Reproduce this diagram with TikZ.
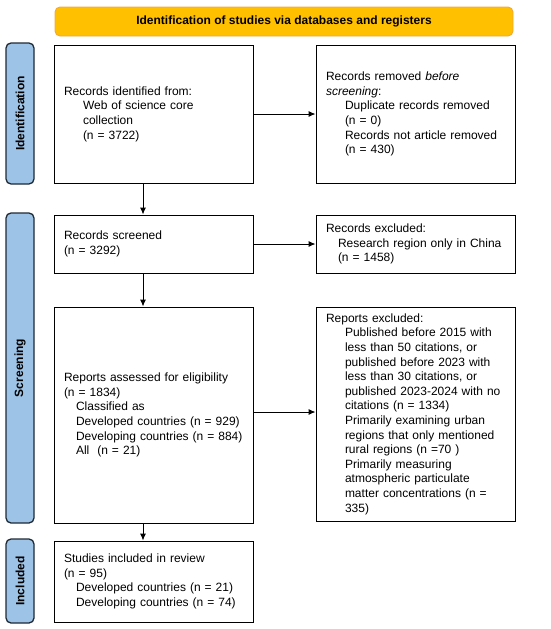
\documentclass[tikz,border=0pt]{standalone}
\usepackage{fontspec}
\setmainfont{Liberation Sans}
\usepackage{tikz}
\usetikzlibrary{positioning}
\usetikzlibrary{arrows.meta}
\definecolor{bannerfill}{HTML}{FFC000}
\definecolor{bannerline}{HTML}{F2A93B}
\definecolor{barfill}{HTML}{9DC3E6}
\definecolor{barline}{HTML}{1E2A36}
\newcommand{\bigind}{\hspace*{19pt}}
\newcommand{\smallind}{\hspace*{12pt}}

\begin{document}
\begin{tikzpicture}[x=1pt, y=-1pt,
    every node/.style={font=\fontsize{12}{14.6}\selectfont},
    banner/.style={draw=bannerline, line width=0.9pt, fill=bannerfill, rounded corners=5pt,
      minimum width=458pt, minimum height=29pt, font=\fontsize{12}{14.6}\selectfont\bfseries},
    sidebar/.style={draw=barline, line width=1.3pt, fill=barfill, rounded corners=5pt,
      rotate=90, minimum height=28pt, inner sep=0pt, font=\fontsize{12}{14.6}\selectfont\bfseries},
    flowbox/.style={draw, line width=0.9pt, align=left, text width=179pt, inner xsep=10pt, inner ysep=4pt},
    arr/.style={line width=1pt, -{Latex[length=7pt, width=6pt]}}]
  \useasboundingbox (0,0) rectangle (550,629);

  \node[banner] (title) at (284,21.5) {Identification of studies via databases and registers};

  \node[sidebar, minimum width=141pt] (idbar) at (20,113.5) {Identification};
  \node[sidebar, minimum width=310pt] (scrbar) at (20,368) {Screening};
  \node[sidebar, minimum width=84pt] (incbar) at (20,581) {Included};

  \node[flowbox, minimum height=138pt] (recid) at (153.5,114) {Records identified from:\\
    \bigind Web of science core\\
    \bigind collection\\
    \bigind (n = 3722)};
  \node[flowbox, minimum height=138pt] (recrem) at (415.5,114) {Records removed \textit{before}\\
    \textit{screening}:\\
    \bigind Duplicate records removed\\
    \bigind (n = 0)\\
    \bigind Records not article removed\\
    \bigind (n = 430)};

  \node[flowbox, minimum height=58pt] (recscr) at (153.5,244) {Records screened\\
    (n = 3292)};
  \node[flowbox, minimum height=58pt] (recexc) at (415.5,244) {Records excluded:\\
    \smallind Research region only in China\\
    \smallind (n = 1458)};

  \node[flowbox, minimum height=216pt] (repass) at (153.5,415) {Reports assessed for eligibility\\
    (n = 1834)\\
    \smallind Classified as\\
    \smallind Developed countries (n = 929)\\
    \smallind Developing countries (n = 884)\\
    \smallind All~ (n = 21)};
  \node[flowbox, minimum height=214pt] (repexc) at (415.5,414) {Reports excluded:\\
    \bigind Published before 2015 with\\
    \bigind less than 50 citations, or\\
    \bigind published before 2023 with\\
    \bigind less than 30 citations, or\\
    \bigind published 2023-2024 with no\\
    \bigind citations (n = 1334)\\
    \bigind Primarily examining urban\\
    \bigind regions that only mentioned\\
    \bigind rural regions (n =70 )\\
    \bigind Primarily measuring\\
    \bigind atmospheric particulate\\
    \bigind matter concentrations (n =\\
    \bigind 335)};

  \node[flowbox, minimum height=81pt] (studinc) at (153.5,581.5) {Studies included in review\\
    (n = 95)\\
    \smallind Developed countries (n = 21)\\
    \smallind Developing countries (n = 74)};

  \draw[arr] (recid.east) -- (recrem.west);
  \draw[arr] (recscr.east) -- (recexc.west);
  \draw[arr] ([yshift=3pt]repass.east) -- ([yshift=3pt]repass.east -| repexc.west);
  \draw[arr] ([xshift=-10.5pt]recid.south) -- ([xshift=-10.5pt]recscr.north);
  \draw[arr] ([xshift=-10.5pt]recscr.south) -- ([xshift=-10.5pt]repass.north);
  \draw[arr] ([xshift=-10.5pt]repass.south) -- ([xshift=-10.5pt]studinc.north);
\end{tikzpicture}
\end{document}
